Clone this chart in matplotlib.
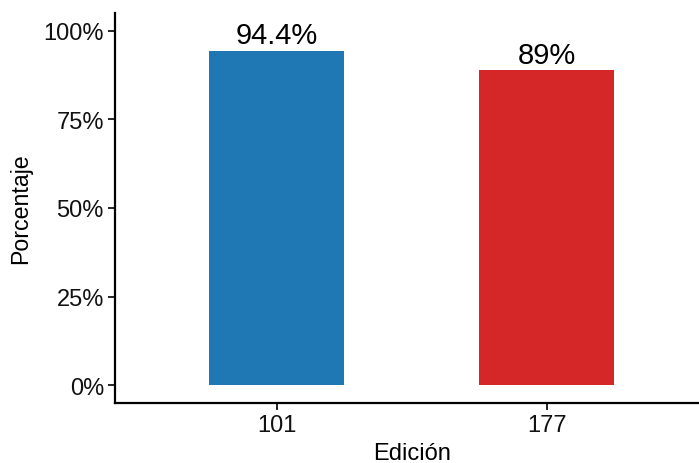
import matplotlib
matplotlib.use("Agg")
import matplotlib.pyplot as plt
from matplotlib.ticker import FuncFormatter

# data
ediciones = ["101", "177"]
porcentajes = [0.944, 0.89]
etiquetas = ["94.4%", "89%"]
colores = ["#1F77B4", "#D62728"]
yticks = [0, 0.25, 0.5, 0.75, 1.0]

plt.rcParams['font.family'] = ['Liberation Sans', 'DejaVu Sans']

fig = plt.figure(figsize=(6.99, 4.64), dpi=100)
ax = fig.add_axes([115/699, 60/464, 1 - 115/699, 390/464])

x = list(range(1, len(ediciones) + 1))
ax.bar(x, porcentajes, width=0.5, color=colores)

for xi, v, lab in zip(x, porcentajes, etiquetas):
    ax.annotate(lab, (xi, v), xytext=(0, 1), textcoords='offset points',
                ha='center', va='bottom', fontsize=21, color='black')

ax.set_xlim(0.4, 2.563)
ax.set_ylim(-0.0508, 1.0508)
ax.set_xticks(x)
ax.set_xticklabels(ediciones)
ax.set_yticks(yticks)
ax.yaxis.set_major_formatter(FuncFormatter(lambda v, p: f"{int(round(v*100))}%"))

for s in ['top', 'right']:
    ax.spines[s].set_visible(False)
for s in ['left', 'bottom']:
    ax.spines[s].set_linewidth(1.6)
    ax.spines[s].set_color('black')

ax.tick_params(axis='both', length=5, width=1.2, color='black',
               labelsize=17, labelcolor='#111111', pad=3)

ax.set_xlabel("Edición", fontsize=17, color='black', labelpad=4)
ax.set_ylabel("Porcentaje", fontsize=16.7, color='black', labelpad=8)
# ggplot panel is wider than the crop, so the title sits a bit right of centre
ax.xaxis.label.set_x(0.508)

fig.savefig("out.png", dpi=100)
